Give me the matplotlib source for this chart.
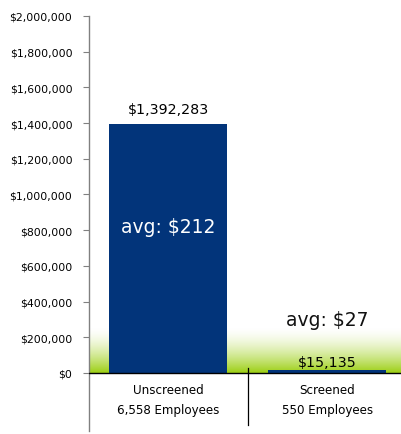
import numpy as np
import matplotlib
matplotlib.use("Agg")
import matplotlib.pyplot as plt
from matplotlib.colors import LinearSegmentedColormap

categories = ["Unscreened\n6,558 Employees", "Screened\n550 Employees"]
values = [1392283, 15135]
value_labels = ["$1,392,283", "$15,135"]
avg_labels = ["avg: $212", "avg: $27"]
yticks = [0, 200000, 400000, 600000, 800000, 1000000, 1200000, 1400000, 1600000, 1800000, 2000000]

W, H = 401, 435
fig = plt.figure(figsize=(W / 100, H / 100), dpi=100)
ax = fig.add_axes([89 / W, 1 - 432 / H, (401 - 89) / W, (432 - 17) / H])

ymin, ymax = -325000, 2000000
xmin, xmax = -0.5, 1.465
ax.set_xlim(xmin, xmax)
ax.set_ylim(ymin, ymax)

# green gradient band
grad = np.linspace(0, 1, 256).reshape(-1, 1) ** 1.6
cmap = LinearSegmentedColormap.from_list("g", ["#ffffff", "#9ccf14"])
ax.imshow(grad, aspect="auto", cmap=cmap, extent=(xmin, xmax, 0, 255000),
          origin="upper", zorder=0, interpolation="bilinear")

x = np.arange(len(values))
ax.bar(x, values, width=0.742, color="#02347a", zorder=2)

ax.axhline(0, color="black", lw=1, zorder=3)
ax.plot([0.5, 0.5], [-290000, 30000], color="black", lw=0.9, zorder=3)

ax.text(0, values[0] + 45000, value_labels[0], ha="center", va="bottom", fontsize=10.3, color="black")
ax.text(0, 823000, avg_labels[0], ha="center", va="center", fontsize=13.5, color="white", zorder=4)
ax.text(1, values[1] + 8000, value_labels[1], ha="center", va="bottom", fontsize=10.3, color="black", zorder=4)
ax.text(1, 302000, avg_labels[1], ha="center", va="center", fontsize=13.5, color="#111111", zorder=4)

for xi, c in zip(x, categories):
    ax.text(xi, -148000, c, ha="center", va="center", fontsize=8.6, color="black", linespacing=1.65)

ax.set_yticks(yticks)
ax.set_yticklabels(["${:,}".format(v) for v in yticks], fontsize=7.8)
ax.tick_params(axis="y", direction="out", length=4, width=0.8, color="#808080", pad=8)
ax.set_xticks([])
for s in ["top", "right", "bottom"]:
    ax.spines[s].set_visible(False)
ax.spines["left"].set_color("#808080")
ax.spines["left"].set_linewidth(1)

fig.savefig("out.png", dpi=100)
